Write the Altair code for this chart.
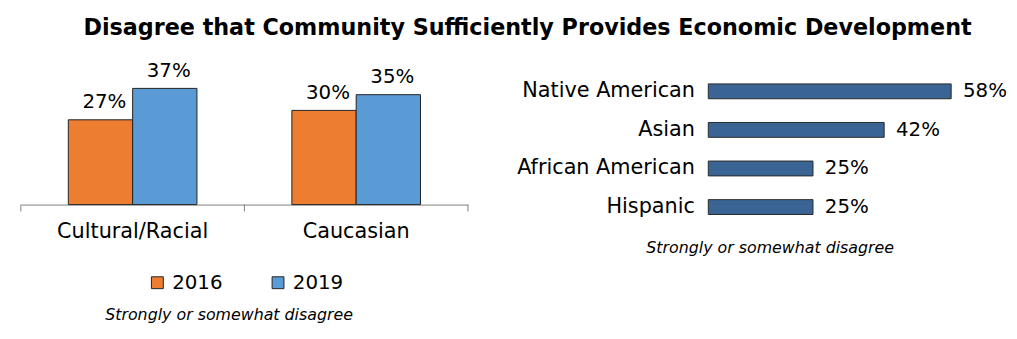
import altair as alt
import pandas as pd

# Left panel data
groups = ["Cultural/Racial", "Cultural/Racial", "Caucasian", "Caucasian"]
years = ["2016", "2019", "2016", "2019"]
values_left = [0.27, 0.37, 0.30, 0.35]
group_order = ["Cultural/Racial", "Caucasian"]
year_order = ["2016", "2019"]

# Right panel data
ethnicities = ["Native American", "Asian", "African American", "Hispanic"]
values_right = [0.58, 0.42, 0.25, 0.25]

FONT = "DejaVu Sans"
ORANGE = "#ED7D31"
BLUE = "#5B9BD5"
NAVY = "#3A6494"

LEFT_H = 134
LEFT_W = 452

left_df = pd.DataFrame({"group": groups, "year": years, "value": values_left})
right_df = pd.DataFrame({"eth": ethnicities, "value": values_right})
tick_df = pd.DataFrame({"group": group_order})
tick_end_df = pd.DataFrame({"group": group_order[-1:]})

x_scale = alt.Scale(domain=group_order, paddingInner=0, paddingOuter=0)
y_left_scale = alt.Scale(domain=[0, 0.4221], nice=False)

x_left = alt.X(
    "group:N",
    sort=group_order,
    scale=x_scale,
    axis=alt.Axis(
        title="Strongly or somewhat disagree",
        labelAngle=0,
        labelFontSize=21,
        labelPadding=16,
        labelColor="#000",
        ticks=False,
        domainColor="#7f7f7f",
        domainWidth=1,
        titleFontStyle="italic",
        titleFontWeight="normal",
        titleFontSize=16,
        titleColor="#000",
        titleX=210,
        titleY=111,
        titleAlign="center",
        titleBaseline="middle",
    ),
)

bars_left = alt.Chart(left_df).mark_bar(stroke="#222", strokeWidth=1).encode(
    x=x_left,
    xOffset=alt.XOffset("year:N", sort=year_order,
                        scale=alt.Scale(paddingInner=0, paddingOuter=0.738)),
    y=alt.Y("value:Q", scale=y_left_scale, axis=None),
    color=alt.Color(
        "year:N",
        sort=year_order,
        scale=alt.Scale(domain=year_order, range=[ORANGE, BLUE]),
        legend=alt.Legend(
            orient="none",
            legendX=128,
            legendY=203,
            direction="horizontal",
            title=None,
            symbolType="square",
            symbolSize=144,
            symbolStrokeColor="#222",
            symbolStrokeWidth=1,
            labelFontSize=20,
            labelFont=FONT,
            labelColor="#000",
            labelOffset=5,
            columnPadding=46,
        ),
    ),
)

labels_left = alt.Chart(left_df).mark_text(
    font=FONT, fontSize=20, dy=-12, dx=4, baseline="alphabetic", color="#000"
).encode(
    x=alt.X("group:N", sort=group_order, scale=x_scale),
    xOffset=alt.XOffset("year:N", sort=year_order),
    y=alt.Y("value:Q", scale=y_left_scale),
    text=alt.Text("value:Q", format=".0%"),
)

ticks_start = alt.Chart(tick_df).mark_rule(color="#7f7f7f", strokeWidth=1).encode(
    x=alt.X("group:N", sort=group_order, scale=x_scale, bandPosition=0),
    y=alt.value(LEFT_H),
    y2=alt.value(LEFT_H + 7),
)
ticks_end = alt.Chart(tick_end_df).mark_rule(color="#7f7f7f", strokeWidth=1).encode(
    x=alt.X("group:N", sort=group_order, scale=x_scale, bandPosition=1),
    y=alt.value(LEFT_H),
    y2=alt.value(LEFT_H + 7),
)

left = alt.layer(bars_left, labels_left, ticks_start, ticks_end).properties(
    width=LEFT_W, height=LEFT_H
)

x_right_scale = alt.Scale(domain=[0, 0.6])
y_right = alt.Y(
    "eth:N",
    sort=ethnicities,
    scale=alt.Scale(paddingInner=0.615, paddingOuter=0.3075),
    axis=alt.Axis(
        title=None,
        domain=False,
        ticks=False,
        labelFontSize=21,
        labelFont=FONT,
        labelColor="#000",
        labelPadding=14,
    ),
)

bars_right = alt.Chart(right_df).mark_bar(
    color=NAVY, stroke="#2a2a2a", strokeWidth=1
).encode(
    x=alt.X(
        "value:Q",
        scale=x_right_scale,
        axis=alt.Axis(
            title="Strongly or somewhat disagree",
            domain=False,
            ticks=False,
            labels=False,
            grid=False,
            titleFontStyle="italic",
            titleFontWeight="normal",
            titleFontSize=16,
            titleColor="#000",
            titleX=62,
            titleY=21,
            titleAlign="center",
            titleBaseline="middle",
        ),
    ),
    y=y_right,
)

labels_right = alt.Chart(right_df).mark_text(
    font=FONT, fontSize=20, dx=12, align="left", baseline="middle", color="#000"
).encode(
    x=alt.X("value:Q", scale=x_right_scale),
    y=alt.Y("eth:N", sort=ethnicities),
    text=alt.Text("value:Q", format=".0%"),
)

right = alt.layer(bars_right, labels_right).properties(width=254, height=156)

chart = (
    alt.hconcat(left, right, spacing=48)
    .properties(
        title=alt.TitleParams(
            "Disagree that Community Sufficiently Provides Economic Development",
            font=FONT,
            fontSize=22.5,
            fontWeight="bold",
            color="#000",
            anchor="middle",
            offset=21,
            dx=14,
        ),
        padding={"left": 12, "top": 8, "right": 2, "bottom": 2},
    )
    .configure_view(stroke=None)
    .configure_axis(grid=False, labelFont=FONT, titleFont=FONT)
    .configure_axisY(grid=False)
)

chart.save("out.html", embed_options={"renderer": "svg", "actions": False})
